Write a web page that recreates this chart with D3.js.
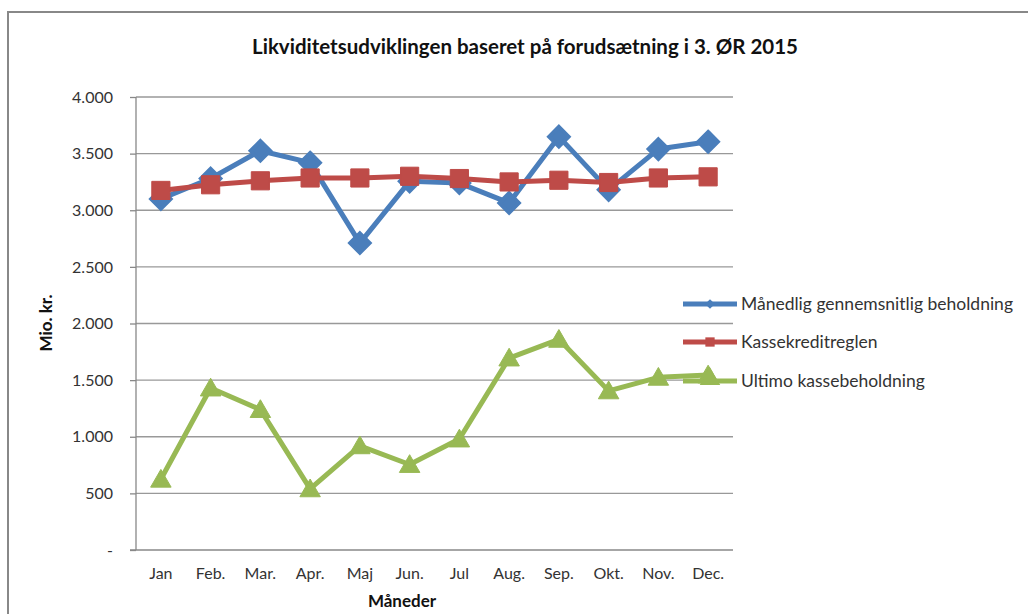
<!DOCTYPE html>
<html>
<head>
<meta charset="utf-8">
<script src="https://cdn.jsdelivr.net/npm/d3@7"></script>
<style>
  body { margin: 0; background: #fff; }
  svg { display: block; font-family: Lato, "Open Sans", sans-serif; }
</style>
</head>
<body>
<div class="chart"></div>
<script>
(function() {
var W = 1028, H = 614;
var margin = {top: 97, right: 295, bottom: 64, left: 136},
    width = W - margin.left - margin.right,
    height = H - margin.top - margin.bottom;

var months = ["Jan","Feb.","Mar.","Apr.","Maj","Jun.","Jul","Aug.","Sep.","Okt.","Nov.","Dec."];
var yTicks = [0,500,1000,1500,2000,2500,3000,3500,4000];
var seriesNames = ["Månedlig gennemsnitlig beholdning","Kassekreditreglen","Ultimo kassebeholdning"];
var maanedlig = [3100,3280,3525,3420,2710,3255,3240,3065,3650,3180,3540,3605];
var kassekredit = [3175,3225,3260,3285,3285,3300,3280,3250,3265,3245,3285,3295];
var ultimo = [625,1430,1240,540,920,755,980,1695,1860,1405,1525,1545];
var colors = ["#4a7ebb","#be4b48","#98b954"];

var series = [maanedlig, kassekredit, ultimo];

var svg = d3.select(".chart").append("svg").attr("width", W).attr("height", H);

// outer frame
svg.append("path")
  .attr("d", "M8," + H + " V12 H" + W)
  .style("fill", "none").style("stroke", "#888").style("stroke-width", 2);

var g = svg.append("g").attr("transform", "translate(" + margin.left + "," + margin.top + ")");

var x = d3.scaleBand().domain(months).range([0, width]);
var y = d3.scaleLinear().domain([0, 4000]).range([height, 0]);

// gridlines
g.selectAll(".grid").data(yTicks.slice(1)).enter().append("line")
  .attr("x1", 0).attr("x2", width)
  .attr("y1", function(d) { return y(d) }).attr("y2", function(d) { return y(d) })
  .style("stroke", "#999").style("stroke-width", 1.3);

// y axis
var yAxis = g.append("g").call(d3.axisLeft(y).tickValues(yTicks).tickSize(6).tickPadding(17)
  .tickFormat(function(d) { return d === 0 ? "-" : d3.format(",")(d).replace(/,/g, ".") }));
yAxis.selectAll("line,path").style("stroke", "#888").style("stroke-width", 1.3);
yAxis.select(".domain").attr("d", "M0," + height + "V0");
yAxis.selectAll("text").style("font-size", "16px").style("fill", "#333").style("font-family", "Lato, sans-serif");

// x axis
var xAxis = g.append("g").attr("transform", "translate(0," + height + ")")
  .call(d3.axisBottom(x).tickSize(0).tickPadding(18));
xAxis.select(".domain").attr("d", "M-6,0H" + width).style("stroke", "#888").style("stroke-width", 1.3);
xAxis.selectAll("text").style("font-size", "16px").style("fill", "#333").style("font-family", "Lato, sans-serif");

var cx = function(d, i) { return x(months[i]) + x.bandwidth() / 2 };
var line = d3.line().x(cx).y(function(d) { return y(d) });

var symbols = [d3.symbolDiamond2, d3.symbolSquare2, d3.symbolTriangle2];
var symSizes = [240, 420, 300];

series.forEach(function(s, k) {
  g.append("path").datum(s).attr("d", line)
    .style("fill", "none").style("stroke", colors[k]).style("stroke-width", 5)
    .style("stroke-linejoin", "round");
  g.selectAll(".m" + k).data(s).enter().append("path")
    .attr("transform", function(d, i) { return "translate(" + cx(d, i) + "," + y(d) + ")" + (k === 2 ? "translate(0,2)" : "") })
    .attr("d", d3.symbol().type(symbols[k]).size(symSizes[k]))
    .style("fill", colors[k]).style("stroke", colors[k]).style("stroke-width", k === 0 ? 4 : 1)
    .style("stroke-linejoin", k === 0 ? "miter" : "round");
});

// legend
var legend = svg.append("g").attr("transform", "translate(683,0)");
var legY = [304, 342, 381];
seriesNames.forEach(function(name, k) {
  legend.append("line").attr("x1", 0).attr("x2", 54).attr("y1", legY[k]).attr("y2", legY[k])
    .style("stroke", colors[k]).style("stroke-width", 5);
  legend.append("path").attr("transform", "translate(27," + (legY[k] - (k === 2 ? 2 : 0)) + ")")
    .attr("d", d3.symbol().type(symbols[k]).size([60, 110, 300][k]))
    .style("fill", colors[k]);
  legend.append("text").attr("x", 58).attr("y", legY[k] + 6)
    .style("font-size", "17.5px").style("fill", "#333").text(name);
});

// title and axis titles
svg.append("text").attr("x", 525).attr("y", 54).attr("text-anchor", "middle")
  .style("font-size", "20.5px").style("font-weight", "bold").style("fill", "#111")
  .text("Likviditetsudviklingen baseret på forudsætning i 3. ØR 2015");
svg.append("text").attr("transform", "translate(52,323) rotate(-90)").attr("text-anchor", "middle")
  .style("font-size", "17px").style("font-weight", "bold").style("fill", "#111").text("Mio. kr.");
svg.append("text").attr("x", 402).attr("y", 607).attr("text-anchor", "middle")
  .style("font-size", "17px").style("font-weight", "bold").style("fill", "#111").text("Måneder");
})()
</script>
</body>
</html>
